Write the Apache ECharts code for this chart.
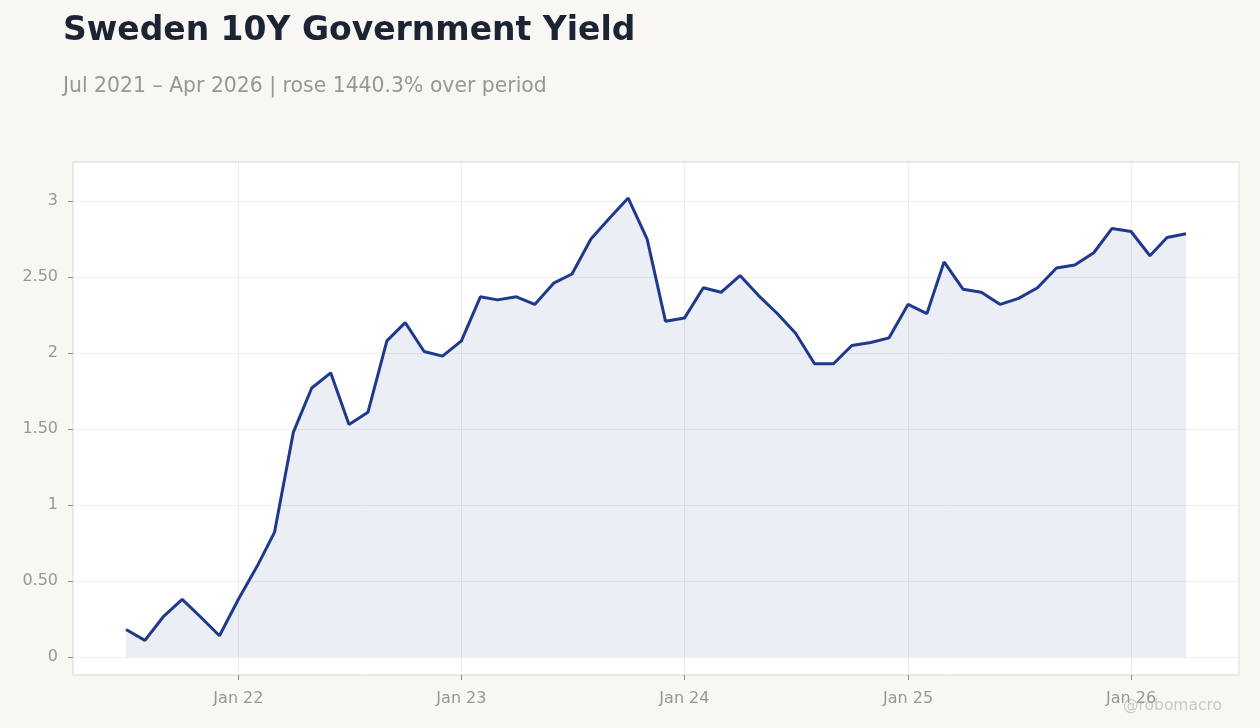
<!DOCTYPE html>
<html>
<head>
<meta charset="utf-8">
<title>Sweden 10Y Government Yield</title>
<script src="https://cdn.jsdelivr.net/npm/echarts@6/dist/echarts.min.js"></script>
<style>
  html, body { margin: 0; padding: 0; background: #f8f7f4; }
  #main { width: 1260px; height: 728px; }
</style>
</head>
<body>
<div id="main"></div>
<script>
// 月份起止
var startYear = 2021;
var startMonth = 7;
// 收益率(%)，2021-07 ~ 2026-04 每月一个点
var yields = [
  0.181, 0.11, 0.27, 0.38, 0.26, 0.14,
  0.38, 0.60, 0.82, 1.48, 1.77, 1.87, 1.53, 1.61, 2.08, 2.20, 2.01, 1.98,
  2.08, 2.37, 2.35, 2.37, 2.32, 2.46, 2.52, 2.75, 2.89, 3.02, 2.75, 2.21,
  2.23, 2.43, 2.40, 2.51, 2.38, 2.26, 2.13, 1.93, 1.93, 2.05, 2.07, 2.10,
  2.32, 2.26, 2.60, 2.42, 2.40, 2.32, 2.36, 2.43, 2.56, 2.58, 2.66, 2.82,
  2.80, 2.64, 2.76, 2.785
];
// y轴刻度
var yTicks = [0, 0.5, 1, 1.5, 2, 2.5, 3];
var yMin = -0.118;
var yMax = 3.257;

// 日期数组
var months = [];
for (var i = 0; i < yields.length; i++) {
  var m = startMonth - 1 + i;
  var y = startYear + Math.floor(m / 12);
  var mm = (m % 12) + 1;
  months.push(y + '-' + (mm < 10 ? '0' + mm : mm) + '-01');
}
var seriesData = months.map(function (d, i) { return [d, yields[i]]; });

// x轴两侧留白 5%
var t0 = +new Date(months[0]);
var t1 = +new Date(months[months.length - 1]);
var pad = (t1 - t0) * 0.05;

var font = 'DejaVu Sans';
var labelColor = '#9a9792';

var myChart = echarts.init(document.getElementById('main'));
var option = {
  backgroundColor: '#f8f7f4',
  animation: false,
  title: [
    {
      text: 'Sweden 10Y Government Yield',
      left: 58, top: 10, padding: 5,
      textStyle: { fontFamily: font, fontSize: 33, fontWeight: 'bold', color: '#1c2434' }
    },
    {
      text: 'Jul 2021 – Apr 2026 | rose 1440.3% over period',
      left: 58, top: 72, padding: 5,
      textStyle: { fontFamily: font, fontSize: 20.4, fontWeight: 'normal', color: labelColor }
    }
  ],
  graphic: [{
    type: 'text',
    right: 38, top: 698,
    style: { text: '@robomacro', fontFamily: font, fontSize: 15.5, fill: '#cbc8c3' }
  }],
  grid: {
    left: 73, right: 21, top: 162, bottom: 53,
    show: true, backgroundColor: '#ffffff', borderColor: '#dcd7cf', borderWidth: 1
  },
  xAxis: {
    type: 'time',
    min: t0 - pad,
    max: t1 + pad,
    minInterval: 365 * 24 * 3600 * 1000,
    axisLine: { show: false, onZero: false },
    axisTick: { show: true, length: 5, lineStyle: { color: '#8f8b86' } },
    splitLine: { show: true, lineStyle: { color: '#ececec', width: 1 } },
    axisLabel: {
      fontFamily: font, fontSize: 16, color: labelColor, margin: 16,
      formatter: function (val) {
        var d = new Date(val);
        if (d.getMonth() !== 0 || d.getDate() !== 1) return '';
        return 'Jan ' + String(d.getFullYear()).slice(2);
      }
    }
  },
  yAxis: {
    type: 'value',
    min: yMin,
    max: yMax,
    splitNumber: 7,
    axisLine: { show: false },
    axisTick: { show: true, length: 5, customValues: yTicks, lineStyle: { color: '#8f8b86' } },
    splitLine: { show: true, lineStyle: { color: '#efefef', width: 1 } },
    axisLabel: {
      fontFamily: font, fontSize: 16, color: labelColor, margin: 15,
      customValues: yTicks,
      formatter: function (v) {
        var r = Math.round(v * 2) / 2;
        if (Math.abs(v - r) > 1e-6 || yTicks.indexOf(r) < 0) return '';
        return r % 1 === 0 ? String(r) : r.toFixed(2);
      }
    }
  },
  series: [{
    name: 'Sweden 10Y',
    type: 'line',
    data: seriesData,
    symbol: 'none',
    lineStyle: { color: '#1f3a8c', width: 3 },
    itemStyle: { color: '#1f3a8c' },
    areaStyle: { color: 'rgba(31,58,140,0.085)', opacity: 1 }
  }]
};
myChart.setOption(option);
</script>
</body>
</html>
